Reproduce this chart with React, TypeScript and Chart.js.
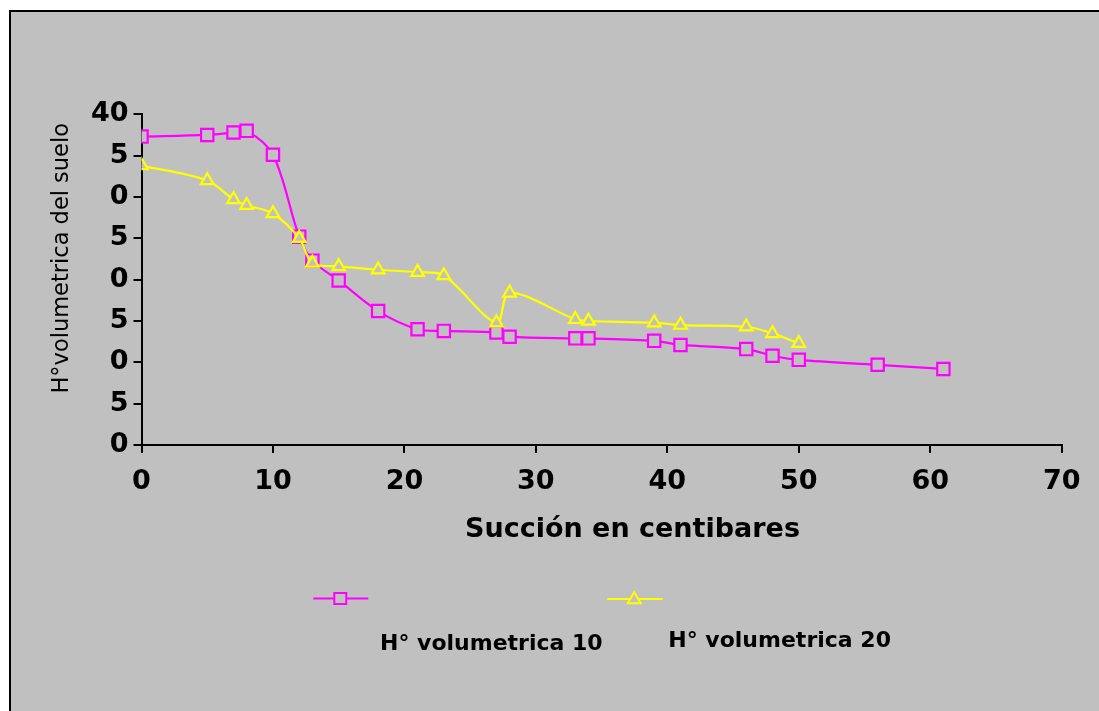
import React, { useEffect, useRef } from 'react';
import { Chart, registerables } from 'chart.js';

Chart.register(...registerables);

// ---- data ----
const suction10 = [0, 5, 7, 8, 10, 12, 13, 15, 18, 21, 23, 27, 28, 33, 34, 39, 41, 46, 48, 50, 56, 61];
const moisture10 = [37.3, 37.5, 37.8, 38.0, 35.1, 25.2, 22.3, 19.9, 16.2, 14.0, 13.8, 13.6, 13.1, 12.9, 12.9, 12.6, 12.1, 11.6, 10.8, 10.3, 9.7, 9.2];
const suction20 = [0, 5, 7, 8, 10, 12, 13, 15, 18, 21, 23, 27, 28, 33, 34, 39, 41, 46, 48, 50];
const moisture20 = [33.8, 32.0, 29.7, 29.0, 28.0, 25.0, 22.0, 21.6, 21.2, 20.9, 20.5, 14.8, 18.4, 15.2, 15.0, 14.8, 14.5, 14.3, 13.5, 12.3];
const yTickLabels = ['0', '5', '0', '5', '0', '5', '0', '5', '40'];
const seriesLabels = ['H° volumetrica 10', 'H° volumetrica 20'];
const xAxisTitle = 'Succión en centibares';
const yAxisTitle = 'H°volumetrica del suelo';

// ---- styling / layout ----
const FONT = "'DejaVu Sans', 'Liberation Sans', Arial, sans-serif";
const BG = '#C0C0C0';
const MAGENTA = '#FF00FF';
const YELLOW = '#FFFF00';
const W = 1090;
const H = 701;

const overlayPlugin = {
  id: 'overlayText',
  afterDraw(chart: any) {
    const ctx = chart.ctx as CanvasRenderingContext2D;
    ctx.save();
    ctx.fillStyle = '#000';

    // x axis title
    ctx.font = `bold 27px ${FONT}`;
    ctx.textAlign = 'center';
    ctx.textBaseline = 'middle';
    ctx.fillText(xAxisTitle, 621.5, 518);

    // y axis title
    ctx.save();
    ctx.translate(51.5, 246.3);
    ctx.rotate(-Math.PI / 2);
    ctx.font = `22.5px ${FONT}`;
    ctx.fillText(yAxisTitle, 0, 0);
    ctx.restore();

    // legend
    const ds = chart.data.datasets;
    ctx.lineWidth = 2;
    // series 10
    ctx.strokeStyle = ds[0].borderColor;
    ctx.beginPath();
    ctx.moveTo(302.3, 586.5);
    ctx.lineTo(357.3, 586.5);
    ctx.stroke();
    ctx.fillStyle = BG;
    ctx.fillRect(323.3, 581, 12, 11);
    ctx.strokeRect(323.3, 581, 12, 11);
    // series 20
    ctx.strokeStyle = ds[1].borderColor;
    ctx.beginPath();
    ctx.moveTo(596.3, 587);
    ctx.lineTo(651.7, 587);
    ctx.stroke();
    ctx.beginPath();
    ctx.moveTo(623.2, 580.2);
    ctx.lineTo(629.7, 591.2);
    ctx.lineTo(616.7, 591.2);
    ctx.closePath();
    ctx.fill();
    ctx.stroke();

    ctx.fillStyle = '#000';
    ctx.font = `bold 22px ${FONT}`;
    ctx.textAlign = 'left';
    ctx.textBaseline = 'middle';
    ctx.fillText(ds[0].label, 369, 632.7);
    ctx.fillText(ds[1].label, 657.3, 629.3);
    ctx.restore();
  },
};

export default function App() {
  const canvasRef = useRef<HTMLCanvasElement | null>(null);

  useEffect(() => {
    if (!canvasRef.current) return;
    const tickFont = { family: FONT, size: 27, weight: 'bold' as const };
    const grid = {
      display: true,
      drawOnChartArea: false,
      drawTicks: true,
      tickLength: 8,
      color: '#000',
      lineWidth: 2,
    };
    const border = { display: true, color: '#000', width: 2 };

    const chart = new Chart(canvasRef.current, {
      type: 'line',
      data: {
        datasets: [
          {
            label: seriesLabels[0],
            data: suction10.map((x, i) => ({ x, y: moisture10[i] })),
            borderColor: MAGENTA,
            backgroundColor: BG,
            borderWidth: 2.2,
            pointStyle: 'rect',
            pointRadius: 8.7,
            pointBorderWidth: 2.2,
            pointBackgroundColor: BG,
            pointBorderColor: MAGENTA,
            tension: 0.33,
            fill: false,
            order: 1,
          },
          {
            label: seriesLabels[1],
            data: suction20.map((x, i) => ({ x, y: moisture20[i] })),
            borderColor: YELLOW,
            backgroundColor: BG,
            borderWidth: 2.2,
            pointStyle: 'triangle',
            pointRadius: 7.3,
            pointBorderWidth: 2.2,
            pointBackgroundColor: BG,
            pointBorderColor: YELLOW,
            tension: 0.33,
            fill: false,
            order: 0,
          },
        ],
      },
      options: {
        responsive: false,
        animation: false,
        devicePixelRatio: 1,
        layout: { padding: { left: 0, top: 102.3, right: 39.3, bottom: 0 } },
        plugins: {
          legend: { display: false },
          tooltip: { enabled: false },
          title: { display: false },
        },
        scales: {
          x: {
            type: 'linear',
            min: 0,
            max: 70,
            afterFit: (s: any) => {
              s.height = 268;
            },
            ticks: {
              stepSize: 10,
              padding: 13,
              color: '#000',
              font: tickFont,
              maxRotation: 0,
              autoSkip: false,
              callback: (v: any) => String(v),
            },
            grid,
            border,
          },
          y: {
            type: 'linear',
            min: 0,
            max: 40,
            afterFit: (s: any) => {
              s.width = 130.5;
            },
            ticks: {
              stepSize: 5,
              padding: 5,
              color: '#000',
              font: tickFont,
              autoSkip: false,
              callback: (v: any) => yTickLabels[Math.round(Number(v) / 5)] ?? '',
            },
            grid,
            border,
          },
        },
      },
      plugins: [overlayPlugin],
    });
    return () => chart.destroy();
  }, []);

  return (
    <div
      style={{
        position: 'fixed',
        left: 9,
        top: 10,
        width: W,
        height: H,
        border: '2px solid #000',
        background: BG,
        boxSizing: 'content-box',
        overflow: 'hidden',
      }}
    >
      <canvas ref={canvasRef} width={W} height={H} style={{ display: 'block', width: W, height: H }} />
    </div>
  );
}
